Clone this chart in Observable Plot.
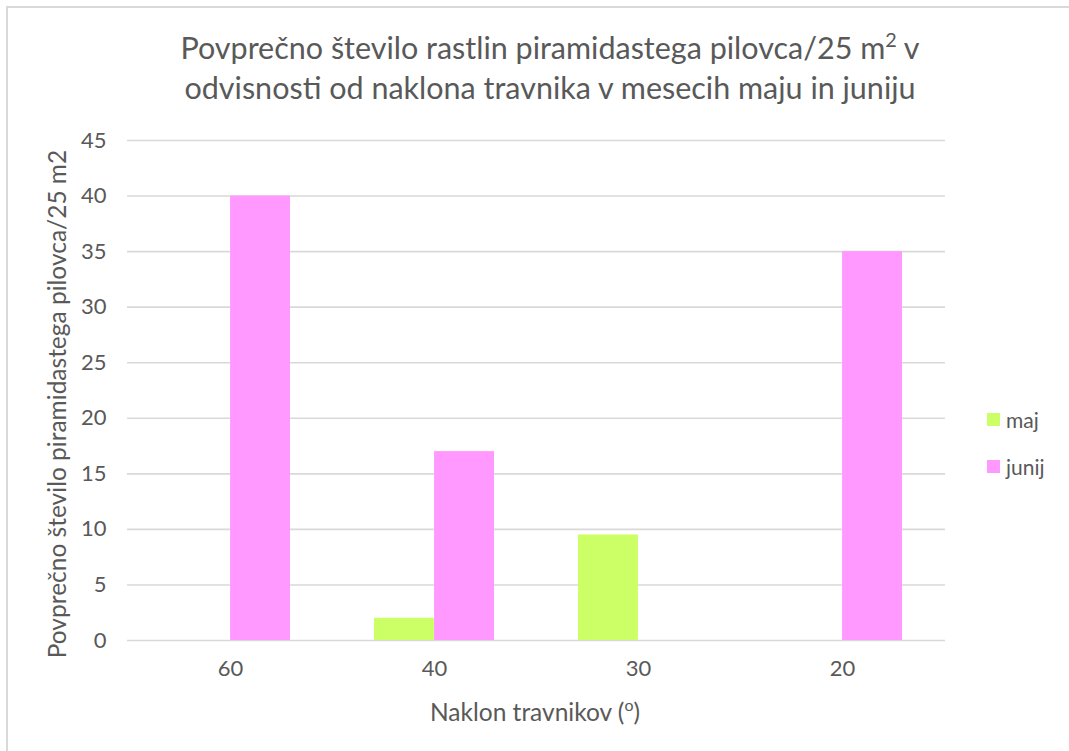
<!DOCTYPE html>
<html>
<head>
<meta charset="utf-8">
<script src="https://cdn.jsdelivr.net/npm/d3@7"></script>
<script src="https://cdn.jsdelivr.net/npm/@observablehq/plot@0.6"></script>
<style>
  html, body { margin: 0; padding: 0; background: #fff; }
  #wrap { position: relative; width: 1069px; height: 751px; overflow: hidden; font-family: Lato, "Open Sans", sans-serif; color: #595959; }
  #frame { position: absolute; left: 6px; top: 6px; width: 1100px; height: 800px; border-left: 2px solid #d9d9d9; border-top: 2px solid #d9d9d9; box-sizing: border-box; }
  #chart { position: absolute; left: 0; top: 0; }
  #title { position: absolute; left: 0; top: 27px; width: 1100px; text-align: center; font-size: 30.5px; line-height: 40px; }
  #xlabel { position: absolute; left: 0; top: 697px; width: 1070px; text-align: center; font-size: 24.5px; line-height: 30px; }
  #ylabel { position: absolute; left: 57px; top: 404px; width: 600px; margin-left: -300px; margin-top: -15px; height: 30px; line-height: 30px; text-align: center; font-size: 24.5px; transform: rotate(-90deg); white-space: nowrap; }
  sup { font-size: 65%; line-height: 0; vertical-align: 0.6em; }
  #legend { position: absolute; left: 987px; top: 396px; font-size: 21px; }
  .item { display: flex; align-items: center; height: 47px; }
  .sw { width: 13px; height: 13px; margin-right: 6px; }
</style>
</head>
<body>
<div id="wrap">
  <div id="frame"></div>
  <div id="chart"></div>
  <div id="title">Povprečno število rastlin piramidastega pilovca/25 m<sup>2</sup> v<br>odvisnosti od naklona travnika v mesecih maju in juniju</div>
  <div id="ylabel">Povprečno število piramidastega pilovca/25 m2</div>
  <div id="xlabel">Naklon travnikov (<sup>o</sup>)</div>
  <div id="legend"></div>
</div>
<script>
// ---- data ----
const categories = ["60", "40", "30", "20"];
const seriesNames = ["maj", "junij"];
const majValues = [0, 2, 9.5, 0];
const junijValues = [40, 17, 0, 35];
const yTicks = [0, 5, 10, 15, 20, 25, 30, 35, 40, 45];
const seriesColors = ["#CCFF66", "#FF99FF"];

const rows = [];
categories.forEach((c, i) => {
  rows.push({cat: c, series: "maj", value: majValues[i]});
  rows.push({cat: c, series: "junij", value: junijValues[i]});
});

const W = 1069, H = 751;
const mL = 127, mR = 124, mT = 140, mB = 111;
const pad = 0.4125;
const half = ((W - mL - mR) / categories.length) * (1 - pad) / 2;

const chart = Plot.plot({
  width: W,
  height: H,
  marginLeft: mL,
  marginRight: mR,
  marginTop: mT,
  marginBottom: mB,
  style: {fontFamily: "Lato, 'Open Sans', sans-serif", fontSize: "22px", color: "#595959", background: "transparent", overflow: "visible"},
  x: {domain: categories, paddingInner: pad, paddingOuter: pad / 2, label: null, tickSize: 0, tickPadding: 20},
  y: {domain: [0, 45], ticks: yTicks, tickSize: 0, tickPadding: 21, label: null},
  color: {domain: seriesNames, range: seriesColors},
  marks: [
    Plot.ruleY(yTicks, {stroke: "#d9d9d9", strokeWidth: 1.6}),
    Plot.barY(rows.filter(d => d.series === "maj"), {x: "cat", y: "value", fill: "series", insetRight: half}),
    Plot.barY(rows.filter(d => d.series === "junij"), {x: "cat", y: "value", fill: "series", insetLeft: half})
  ]
});
document.getElementById("chart").appendChild(chart);

const legend = document.getElementById("legend");
seriesNames.forEach((s, i) => {
  const it = document.createElement("div");
  it.className = "item";
  const sw = document.createElement("div");
  sw.className = "sw";
  sw.style.background = seriesColors[i];
  const tx = document.createElement("span");
  tx.textContent = s;
  it.appendChild(sw);
  it.appendChild(tx);
  legend.appendChild(it);
});
</script>
</body>
</html>
